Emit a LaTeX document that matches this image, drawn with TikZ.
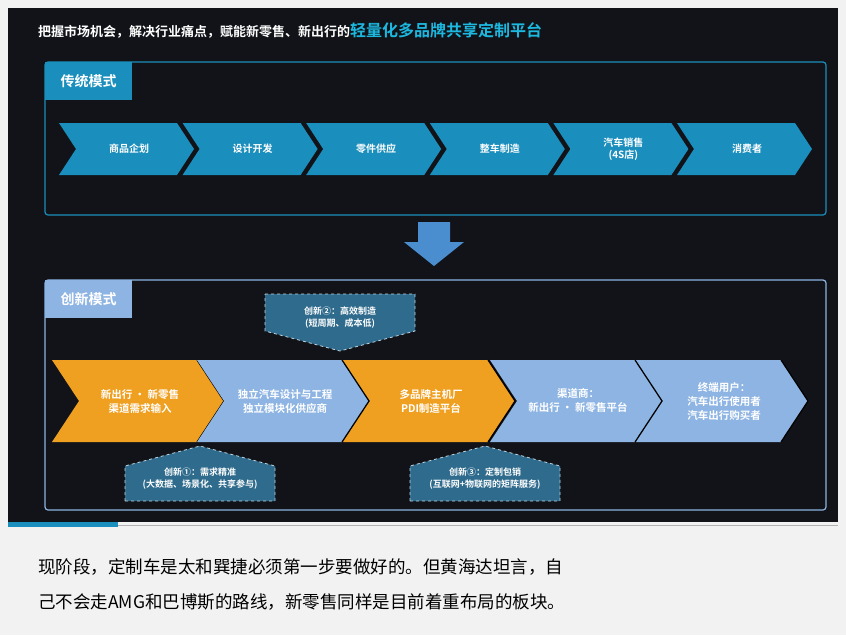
\documentclass[tikz,border=0pt]{standalone}
\usepackage{fontspec}
\setmainfont{Noto Sans CJK SC}
\newfontfamily\cjkb{Noto Sans CJK SC Bold}
\begin{document}
\begin{tikzpicture}[x=1pt,y=-1pt,
  chev/.style={fill=#1},
  lbl/.style={text=white,font=\cjkb\fontsize{10}{12}\selectfont,align=center},
  call/.style={fill=callc,draw=white!70!callc,dashed,line width=0.8pt},
  tagbox/.style={text=white,font=\cjkb\fontsize{14}{16}\selectfont,inner sep=0pt}]
\definecolor{bg}{HTML}{F2F2F2}
\definecolor{dark}{HTML}{111318}
\definecolor{tblue}{HTML}{1A8EBC}
\definecolor{lblue}{HTML}{8DB4E2}
\definecolor{orng}{HTML}{F0A020}
\definecolor{callc}{HTML}{2F6B8C}
\definecolor{cyan}{HTML}{1CB8E0}
\definecolor{arrowc}{HTML}{4A8ED0}
\fill[bg] (0,0) rectangle (846,635);
\useasboundingbox (0,0) rectangle (846,635);
\fill[dark] (8,8) rectangle (838,522);
\fill[tblue] (8,522) rectangle (118,527);
\draw[gray!60] (118,525) -- (838,525);
% title
\node[anchor=west,inner sep=0pt,font=\cjkb\fontsize{13}{15}\selectfont,text=white] (title) at (38,30)
  {把握市场机会，解决行业痛点，赋能新零售、新出行的\textcolor{cyan}{\fontsize{16}{18}\selectfont 轻量化多品牌共享定制平台}};
% panel 1
\draw[tblue,line width=1.2pt,rounded corners=3pt] (45,62) rectangle (826,215);
\fill[tblue] (45,62) rectangle (132,100);
\node[tagbox] (t1) at (88.5,81) {传统模式};
\foreach \i/\t in {0/商品企划,1/设计开发,2/零件供应,3/整车制造,4/{汽车销售\\(4S店)},5/消费者}{
  \pgfmathsetmacro{\xa}{59+\i*123.6}
  \fill[tblue] (\xa,123) -- (\xa+118,123) -- (\xa+135,149) -- (\xa+118,175) -- (\xa,175) -- (\xa+17,149) -- cycle;
  \node[lbl] (c\i) at (\xa+70,149) {\t};
}
% down arrow
\fill[arrowc] (418,222) -- (450,222) -- (450,242) -- (464,242) -- (434,266) -- (404,242) -- (418,242) -- cycle;
% panel 2
\draw[lblue,line width=1.2pt,rounded corners=3pt] (45,280) rectangle (826,510);
\fill[lblue] (45,280) rectangle (132,318);
\node[tagbox] (t2) at (88.5,299) {创新模式};
\foreach \xa/\c/\t in {52/orng/{新出行 • 新零售\\渠道需求输入},197/lblue/{独立汽车设计与工程\\独立模块化供应商},343/orng/{多品牌主机厂\\PDI制造平台},490/lblue/{渠道商：\\新出行 • 新零售平台},636/lblue/{终端用户：\\汽车出行使用者\\汽车出行购买者}}{
  \fill[\c] (\xa,360) -- (\xa+145,360) -- (\xa+172,401) -- (\xa+145,442) -- (\xa,442) -- (\xa+27,401) -- cycle;
  \draw[black,line width=1.2pt] (\xa+145,360) -- (\xa+172,401) -- (\xa+145,442);
  \node[lbl,font=\cjkb\fontsize{10.5}{14}\selectfont] at (\xa+88,401) {\t};
}
% callouts
\draw[call] (265,294) -- (415,294) -- (415,331) -- (340,351) -- (265,331) -- cycle;
\node[lbl,font=\cjkb\fontsize{9}{12}\selectfont] (k2) at (340,318) {创新②：高效制造\\(短周期、成本低)};
\draw[call] (125,501) -- (125,466) -- (200,446) -- (275,466) -- (275,501) -- cycle;
\node[lbl,font=\cjkb\fontsize{9}{12}\selectfont] (k1) at (200,479) {创新①：需求精准\\(大数据、场景化、共享参与)};
\draw[call] (410,501) -- (410,466) -- (485,446) -- (560,466) -- (560,501) -- cycle;
\node[lbl,font=\cjkb\fontsize{9}{12}\selectfont] (k3) at (485,479) {创新③：定制包销\\(互联网+物联网的矩阵服务)};
% caption
\node[anchor=north west,align=left,inner sep=0pt,font=\fontsize{17.5}{35}\selectfont] (cap) at (38,558)
 {现阶段，定制车是太和巽捷必须第一步要做好的。但黄海达坦言，自\\己不会走AMG和巴博斯的路线，新零售同样是目前着重布局的板块。};
\end{tikzpicture}
\end{document}
